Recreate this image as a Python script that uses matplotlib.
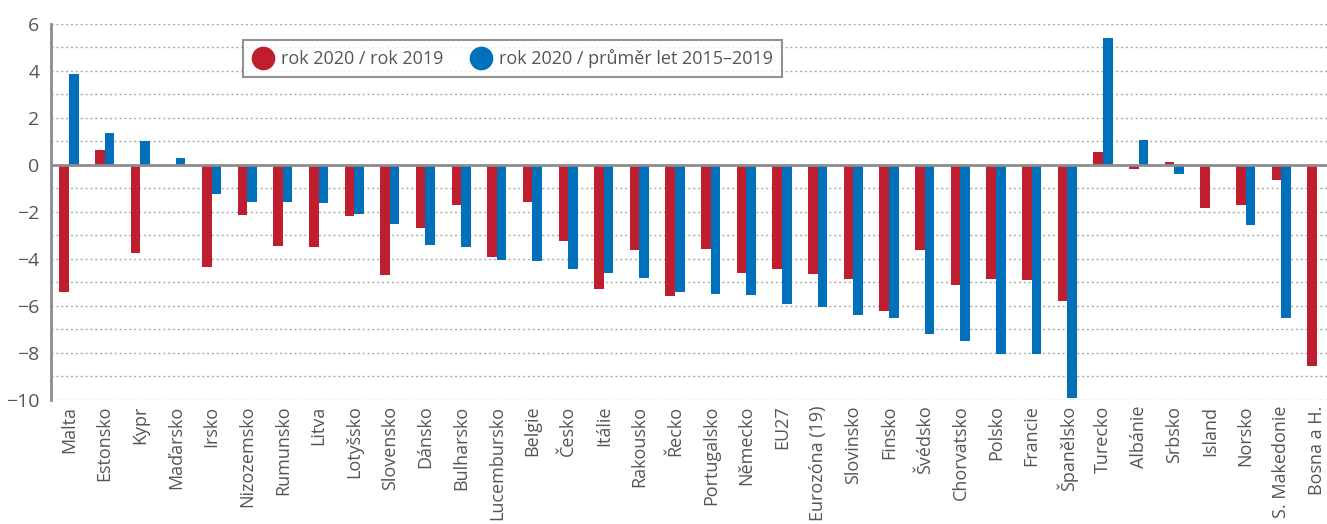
import numpy as np
import matplotlib
matplotlib.use("Agg")
import matplotlib.pyplot as plt
from matplotlib.lines import Line2D

plt.rcParams['font.family'] = ['Open Sans', 'DejaVu Sans']

zeme = ["Malta", "Estonsko", "Kypr", "Maďarsko", "Irsko", "Nizozemsko", "Rumunsko",
        "Litva", "Lotyšsko", "Slovensko", "Dánsko", "Bulharsko", "Lucembursko",
        "Belgie", "Česko", "Itálie", "Rakousko", "Řecko", "Portugalsko", "Německo",
        "EU27", "Eurozóna (19)", "Slovinsko", "Finsko", "Švédsko", "Chorvatsko",
        "Polsko", "Francie", "Španělsko", "Turecko", "Albánie", "Srbsko", "Island",
        "Norsko", "S. Makedonie", "Bosna a H."]

r2019 = [-5.4, 0.62, -3.73, -0.02, -4.33, -2.15, -3.44, -3.48, -2.18, -4.70,
         -2.68, -1.69, -3.94, -1.59, -3.23, -5.27, -3.61, -5.58, -3.57, -4.59,
         -4.42, -4.66, -4.84, -6.20, -3.64, -5.13, -4.84, -4.90, -5.79, 0.54,
         -0.17, 0.11, -1.83, -1.70, -0.65, -8.54]

prumer = [3.84, 1.33, 1.03, 0.27, -1.26, -1.59, -1.60, -1.64, -2.08, -2.52,
          -3.40, -3.50, -4.04, -4.08, -4.42, -4.62, -4.82, -5.42, -5.50, -5.52,
          -5.91, -6.03, -6.37, -6.52, -7.20, -7.49, -8.03, -8.05, -9.93, 5.40,
          1.06, -0.40, np.nan, -2.54, -6.53, np.nan]

legenda = ["rok 2020 / rok 2019", "rok 2020 / průměr let 2015–2019"]

cerv = "#be1e2d"
modr = "#0070ba"
seda = "#555555"

fig = plt.figure(figsize=(13.27, 5.24), dpi=100)
ax = fig.add_axes([0.0382, 0.2366, 0.9618, 0.7184])

x = np.arange(len(zeme))
w = 0.27
ax.bar(x - w / 2, r2019, w, color=cerv, zorder=3)
ax.bar(x + w / 2, prumer, w, color=modr, zorder=3)

ax.set_ylim(-10, 6)
ax.set_xlim(-0.51, 35.28)
ax.set_yticks(range(-10, 7, 2))
ax.set_yticks(range(-10, 7, 1), minor=True)
ax.yaxis.grid(True, which='both', linestyle=(0, (1.5, 2)), color="#aaaaaa", linewidth=1, zorder=0)
ax.axhline(0, color="#8c8c8c", linewidth=2, zorder=4)

ax.set_xticks(x)
ax.set_xticklabels(zeme, rotation=90, fontsize=13, color=seda)
ax.tick_params(axis='y', which='both', length=0, labelsize=14, labelcolor=seda, pad=8)
ax.tick_params(axis='x', length=0, pad=4)

for s in ['top', 'right', 'bottom']:
    ax.spines[s].set_visible(False)
ax.spines['left'].set_color("#8c8c8c")
ax.spines['left'].set_linewidth(2)

handles = [Line2D([], [], marker='o', linestyle='', markersize=16, color=cerv),
           Line2D([], [], marker='o', linestyle='', markersize=16, color=modr)]
leg = ax.legend(handles, legenda, ncol=2, loc='upper left', bbox_to_anchor=(0.1507, 0.956),
                borderaxespad=0, frameon=True, fancybox=False, fontsize=13,
                handletextpad=0.4, columnspacing=1.5, borderpad=0.5, handlelength=1.2)
leg.get_frame().set_edgecolor("#777777")
leg.get_frame().set_linewidth(1.5)
for t in leg.get_texts():
    t.set_color(seda)

fig.savefig("out.png", dpi=100)
